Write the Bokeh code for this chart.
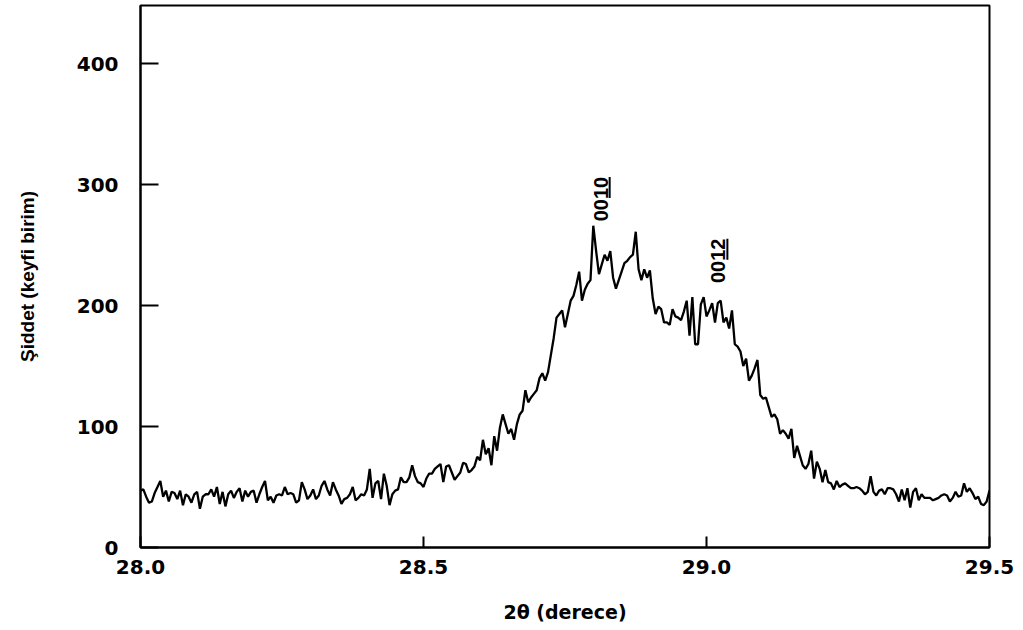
import numpy as np
from bokeh.plotting import figure
from bokeh.models import Label, FixedTicker, Range1d
from bokeh.embed import file_html
from bokeh.resources import INLINE

# XRD scan: 2-theta from 28.0 to 29.5 deg, 0.005 deg step
theta_start = 28.0
theta_step = 0.005

intensity = [
    47, 48, 42, 37, 38, 45, 50, 55, 42, 47,
    38, 46, 45, 40, 47, 35, 44, 42, 37, 44,
    46, 32, 42, 44, 44, 48, 42, 50, 36, 46,
    34, 44, 47, 41, 46, 49, 38, 47, 42, 46,
    47, 37, 44, 50, 55, 39, 42, 37, 43, 44,
    43, 50, 44, 45, 44, 37, 39, 54, 48, 40,
    43, 48, 40, 43, 51, 55, 48, 43, 54, 48,
    43, 36, 40, 41, 44, 50, 39, 41, 44, 43,
    48, 65, 41, 53, 55, 40, 61, 51, 35, 44,
    47, 48, 58, 54, 54, 58, 68, 59, 54, 53,
    50, 57, 61, 61, 65, 67, 69, 54, 67, 68,
    62, 56, 59, 62, 70, 69, 62, 64, 67, 75,
    72, 89, 77, 82, 68, 92, 80, 99, 110, 102,
    94, 98, 89, 102, 110, 113, 130, 120, 124, 127,
    130, 140, 144, 138, 145, 159, 173, 190, 193, 196,
    182, 193, 204, 208, 217, 228, 204, 213, 218, 221,
    266, 245, 226, 234, 242, 237, 245, 223, 214, 221,
    228, 235, 237, 240, 242, 261, 230, 221, 230, 223,
    229, 206, 193, 199, 197, 186, 186, 184, 197, 191,
    190, 188, 195, 204, 175, 207, 168, 168, 201, 207,
    191, 196, 202, 186, 202, 204, 186, 190, 181, 196,
    168, 166, 162, 150, 156, 138, 142, 148, 155, 126,
    123, 124, 116, 108, 110, 106, 94, 97, 94, 90,
    98, 74, 84, 76, 68, 65, 69, 80, 57, 71,
    65, 54, 64, 54, 53, 48, 55, 50, 52, 53,
    51, 49, 49, 50, 49, 47, 44, 46, 59, 46,
    43, 47, 48, 44, 49, 49, 48, 44, 38, 48,
    39, 49, 33, 46, 49, 39, 44, 41, 41, 41,
    39, 40, 41, 43, 44, 43, 38, 41, 46, 42,
    43, 53, 46, 49, 45, 40, 42, 36, 35, 38,
    47,
]
two_theta = np.round(theta_start + theta_step * np.arange(len(intensity)), 3)

x_ticks = [28.0, 28.5, 29.0, 29.5]
x_tick_labels = {28.0: "28.0", 28.5: "28.5", 29.0: "29.0", 29.5: "29.5"}
y_ticks = [0, 100, 200, 300, 400]

# reflection labels (Miller indices) placed over their peaks
peak_names = ["0010", "0012"]
peak_x = [28.813, 29.021]
peak_y = [288, 237]

X_MIN, X_MAX, Y_MIN, Y_MAX = 28.0, 29.5, 0, 448
PLOT_W, PLOT_H = 849, 542          # inner frame size in pixels
px_x = (X_MAX - X_MIN) / PLOT_W    # data units per pixel
px_y = (Y_MAX - Y_MIN) / PLOT_H

p = figure(
    width=1023, height=630,
    x_range=Range1d(X_MIN, X_MAX), y_range=Range1d(Y_MIN, Y_MAX),
    output_backend="svg", toolbar_location=None,
    min_border_left=140, min_border_right=34,
    min_border_top=5, min_border_bottom=83,
)
p.background_fill_color = "white"
p.border_fill_color = "white"
p.xgrid.visible = False
p.ygrid.visible = False
p.outline_line_color = "black"
p.outline_line_width = 2

p.line(two_theta, intensity, line_color="black", line_width=2.3)

tick_font = "DejaVu Sans"
for ax in (p.xaxis[0], p.yaxis[0]):
    ax.axis_line_color = "black"
    ax.axis_line_width = 2
    ax.major_tick_line_color = "black"
    ax.major_tick_line_width = 2
    ax.major_tick_out = 0
    ax.minor_tick_line_color = None
    ax.major_label_text_font = tick_font
    ax.major_label_text_font_style = "bold"
    ax.major_label_text_font_size = "20px"
    ax.major_label_text_color = "black"
    ax.axis_label_text_color = "black"
    ax.axis_label_text_font_style = "bold"

p.xaxis.ticker = FixedTicker(ticks=x_ticks)
p.xaxis.major_label_overrides = x_tick_labels
p.xaxis.major_tick_in = 11
p.xaxis.major_label_standoff = 12
p.xaxis.axis_label = "2\u03b8 (derece)"
p.xaxis.axis_label_text_font = tick_font
p.xaxis.axis_label_text_font_size = "19px"
p.xaxis.axis_label_standoff = 24

p.yaxis.ticker = FixedTicker(ticks=y_ticks)
p.yaxis.major_tick_in = 18
p.yaxis.major_label_standoff = 22
p.yaxis.axis_label = "\u015eiddet (keyfi birim)"
p.yaxis.axis_label_text_font = "Liberation Sans"
p.yaxis.axis_label_text_font_size = "19px"
p.yaxis.axis_label_standoff = 36

# rotated index labels; the last two digits are underlined
ul_x, ul_y0, ul_y1 = [], [], []
for name, xv, yv in zip(peak_names, peak_x, peak_y):
    p.add_layout(Label(
        x=xv, y=yv, text=name, angle=np.pi / 2,
        text_align="center", text_baseline="middle",
        text_font="Liberation Sans", text_font_style="bold",
        text_font_size="20px", text_color="black",
    ))
    ul_x.append(xv + 9 * px_x)
    ul_y0.append(yv + 1 * px_y)
    ul_y1.append(yv + 22 * px_y)

p.segment(x0=ul_x, y0=ul_y0, x1=ul_x, y1=ul_y1, line_color="black", line_width=2)

open("out.html", "w").write(file_html(p, INLINE))
